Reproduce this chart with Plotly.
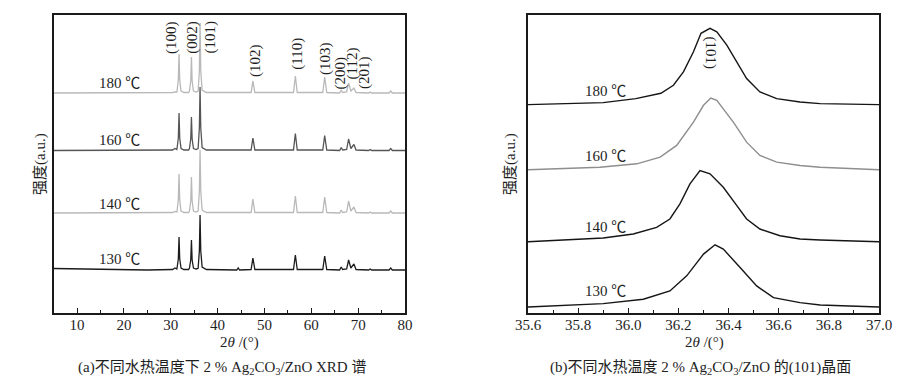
import plotly.graph_objects as go

# ---------------- Panel (a): XRD patterns, 2theta 5-80 ----------------
TT_A = [5, 15, 25, 30.4, 30.9, 31.3,
        31.35, 31.62, 31.77, 31.92, 32.2,
        32.8, 33.8,
        34.0, 34.27, 34.42, 34.57, 34.85,
        35.4, 35.8,
        35.85, 36.11, 36.26, 36.41, 36.7,
        37.6, 44.1, 44.4, 44.7,
        47.15, 47.54, 47.95,
        56.2, 56.6, 57.0,
        62.45, 62.86, 63.3,
        66.05, 66.38, 66.7,
        67.55, 67.96, 68.45,
        69.1, 69.55,
        72.25, 72.56, 72.9,
        76.6, 76.95, 77.3,
        80]

I_A_180 = [220, 220, 220, 220.5, 221, 221,
           222, 233, 259, 233, 222,
           220.5, 220.5,
           222, 232, 256, 232, 222,
           221, 221.5,
           222, 242, 290, 242, 223,
           220.5, 220, 220.5, 220,
           220.5, 232, 220.5,
           220.5, 237, 220.5,
           220.5, 236, 220.5,
           220, 223, 220.5,
           221, 230, 222,
           225, 220.5,
           220, 221, 220,
           220, 222, 220,
           220]

I_A_160 = [162.5, 162.5, 162.5, 163, 164.5, 163.5,
           164.5, 175, 200, 175, 164.5,
           163, 163,
           164.5, 174, 196, 174, 164.5,
           163.5, 164,
           164.5, 185, 226, 185, 165.5,
           163, 162.5, 163, 162.5,
           163, 175, 163,
           163, 179.5, 163,
           163, 177.5, 163,
           162.5, 165.5, 163,
           163.5, 174, 164.5,
           168.5, 163,
           162.5, 163.5, 162.5,
           162.5, 164.5, 162.5,
           162.5]

I_A_140 = [100, 100, 100, 100.5, 101.5, 101,
           102, 113, 139, 113, 102,
           100.5, 100.5,
           102, 112, 136, 112, 102,
           101, 101.5,
           102, 122, 163, 122, 103,
           100.5, 100, 100.5, 100,
           100.5, 114, 100.5,
           100.5, 117, 100.5,
           100.5, 116, 100.5,
           100, 103, 100.5,
           101, 112, 102,
           106, 100.5,
           100, 101, 100,
           100, 102, 100,
           100]

I_A_130 = [44.5, 43.5, 43, 43.5, 45, 44,
           45, 54, 76, 54, 45,
           43.5, 43.5,
           45, 53, 73, 53, 45,
           44, 44.5,
           45, 62, 98, 62, 46,
           43.5, 43, 45, 43,
           43.5, 55, 43.5,
           43.5, 58, 43.5,
           43.5, 57, 43.5,
           43, 46, 43.5,
           44, 53, 45,
           49, 43.5,
           43, 44, 43,
           43, 45, 43,
           43]

# ---------------- Panel (b): (101) reflection, 2theta 35.6-37.0 ----------------
TT_B_180 = [35.6, 35.75, 35.9, 36.03, 36.13, 36.18, 36.22, 36.26, 36.29, 36.326,
            36.353, 36.393, 36.433, 36.472, 36.525, 36.592, 36.685, 36.765, 37.0]
I_B_180 = [207.7, 208.7, 209.7, 213.7, 219, 227, 240.3, 260.3, 278.7, 283.7,
           280.3, 267, 250.3, 233.7, 220.3, 213.7, 210.3, 208.7, 207.7]

TT_B_160 = [35.6, 35.728, 35.887, 36.034, 36.127, 36.193, 36.26, 36.30, 36.329,
            36.353, 36.419, 36.472, 36.525, 36.592, 36.685, 36.765, 37.0]
I_B_160 = [142.7, 143.7, 145.3, 148.7, 155.3, 167, 190.3, 207, 214.3,
           212, 190.3, 170.3, 157, 150.3, 147, 145.3, 142.7]

TT_B_140 = [35.6, 35.728, 35.9, 36.02, 36.113, 36.166, 36.206, 36.246, 36.286,
            36.326, 36.379, 36.433, 36.472, 36.525, 36.605, 36.685, 36.765, 37.0]
I_B_140 = [71, 72.7, 74.7, 78.7, 85.3, 93.7, 108.7, 128.7, 142,
           138.7, 125.3, 107, 93.7, 83.7, 77, 73.7, 72.7, 71]

TT_B_130 = [35.6, 35.728, 35.9, 36.06, 36.166, 36.233, 36.30, 36.346, 36.379,
            36.446, 36.512, 36.579, 36.685, 36.765, 37.0]
I_B_130 = [6, 7.7, 9.3, 13.7, 22, 37, 58.7, 68, 63.7,
           45.3, 27, 15.3, 10.3, 8, 6]

TEMPS = ["180 ℃", "160 ℃", "140 ℃", "130 ℃"]
HKL_A = ["(100)", "(002)", "(101)", "(102)", "(110)", "(103)", "(200)", "(112)", "(201)"]
HKL_B = "(101)"

SERIF = "Liberation Serif, Times New Roman, Noto Sans CJK SC, serif"
TXT = "#1e1e1e"

fig = go.Figure()

colors_a = ["#b9b9b9", "#555555", "#b9b9b9", "#1c1c1c"]
for ys, c in zip([I_A_180, I_A_160, I_A_140, I_A_130], colors_a):
    fig.add_trace(go.Scatter(x=TT_A, y=ys, mode="lines", xaxis="x", yaxis="y",
                             line=dict(color=c, width=1.3), showlegend=False,
                             hoverinfo="skip"))

colors_b = ["#151515", "#8e8e8e", "#151515", "#151515"]
for xs, ys, c in zip([TT_B_180, TT_B_160, TT_B_140, TT_B_130],
                     [I_B_180, I_B_160, I_B_140, I_B_130], colors_b):
    fig.add_trace(go.Scatter(x=xs, y=ys, mode="lines", xaxis="x2", yaxis="y2",
                             line=dict(color=c, width=1.4), showlegend=False,
                             hoverinfo="skip"))

W, H = 922, 385
ydom = [72 / H, 370 / H]

axis_common = dict(showgrid=False, zeroline=False, showline=True, mirror=True,
                   linecolor="#1a1a1a", linewidth=2)

fig.update_layout(
    width=W, height=H, margin=dict(l=0, r=0, t=0, b=0, autoexpand=False),
    autosize=False,
    paper_bgcolor="white", plot_bgcolor="white",
    font=dict(family=SERIF, size=15, color=TXT),
    xaxis=dict(domain=[53.6 / W, 405 / W], range=[5, 80], tick0=0, dtick=10,
               ticks="inside", ticklen=5, tickwidth=1.2, tickcolor="#1a1a1a",
               minor=dict(tick0=5, dtick=5, ticks="inside", ticklen=3,
                          tickwidth=1.2, tickcolor="#1a1a1a"),
               tickfont=dict(family=SERIF, size=15, color=TXT),
               ticklabelstandoff=-3,
               anchor="y", **axis_common),
    yaxis=dict(domain=ydom, range=[0, 298], showticklabels=False, ticks="",
               anchor="x", **axis_common),
    xaxis2=dict(domain=[528 / W, 879 / W], range=[35.6, 37.0], tick0=35.6, dtick=0.2,
                tickformat=".1f",
                ticks="inside", ticklen=5, tickwidth=1.2, tickcolor="#1a1a1a",
                minor=dict(tick0=35.6, dtick=0.1, ticks="inside", ticklen=3,
                           tickwidth=1.2, tickcolor="#1a1a1a"),
                tickfont=dict(family=SERIF, size=15, color=TXT),
                ticklabelstandoff=-3,
                anchor="y2", **axis_common),
    yaxis2=dict(domain=ydom, range=[0, 297], showticklabels=False, ticks="",
                anchor="x2", **axis_common),
)

ann = []
# temperature labels, panel (a)
for t, yv in zip(TEMPS, [230, 173, 109, 54]):
    ann.append(dict(x=14.3, y=yv, xref="x", yref="y", text=t, showarrow=False,
                    xanchor="left", yanchor="middle", font=dict(size=15)))
# temperature labels, panel (b)
for t, yv in zip(TEMPS, [221, 156, 86, 22]):
    ann.append(dict(x=35.82, y=yv, xref="x2", yref="y2", text=t, showarrow=False,
                    xanchor="left", yanchor="middle", font=dict(size=15)))
# hkl labels panel (a)
hkl_pos = [(30.05, 276), (34.47, 276), (38.48, 276), (47.98, 253), (56.88, 259),
           (62.92, 255), (66.23, 240), (68.78, 250), (71.24, 241)]
for lab, (xv, yv) in zip(HKL_A, hkl_pos):
    ann.append(dict(x=xv, y=yv, xref="x", yref="y", text=lab, showarrow=False,
                    textangle=-90, xanchor="center", yanchor="middle",
                    font=dict(size=15)))
# hkl label panel (b)
ann.append(dict(x=36.328, y=259, xref="x2", yref="y2", text=HKL_B, showarrow=False,
                textangle=90, xanchor="center", yanchor="middle", font=dict(size=15)))


def paper(px, py, text, angle=0):
    return dict(x=px / W, y=1 - py / H, xref="paper", yref="paper", text=text,
                textangle=angle, showarrow=False, xanchor="center",
                yanchor="middle", font=dict(size=15))


# axis titles
ann.append(paper(239, 342, "2<i>θ</i> /(°)"))
ann.append(paper(704, 342, "2<i>θ</i> /(°)"))
ann.append(paper(41, 164, "强度(a.u.)", -90))
ann.append(paper(511, 164, "强度(a.u.)", -90))

# captions
ann.append(paper(222, 368, "(a)不同水热温度下 2 % Ag<sub>2</sub>CO<sub>3</sub>/ZnO XRD 谱"))
ann.append(paper(700, 368, "(b)不同水热温度 2 % Ag<sub>2</sub>CO<sub>3</sub>/ZnO 的(101)晶面"))

fig.update_layout(annotations=ann)

fig.write_html("out.html", config={"displayModeBar": False},
               post_script="document.body.style.margin='0';document.body.style.overflow='hidden';")
